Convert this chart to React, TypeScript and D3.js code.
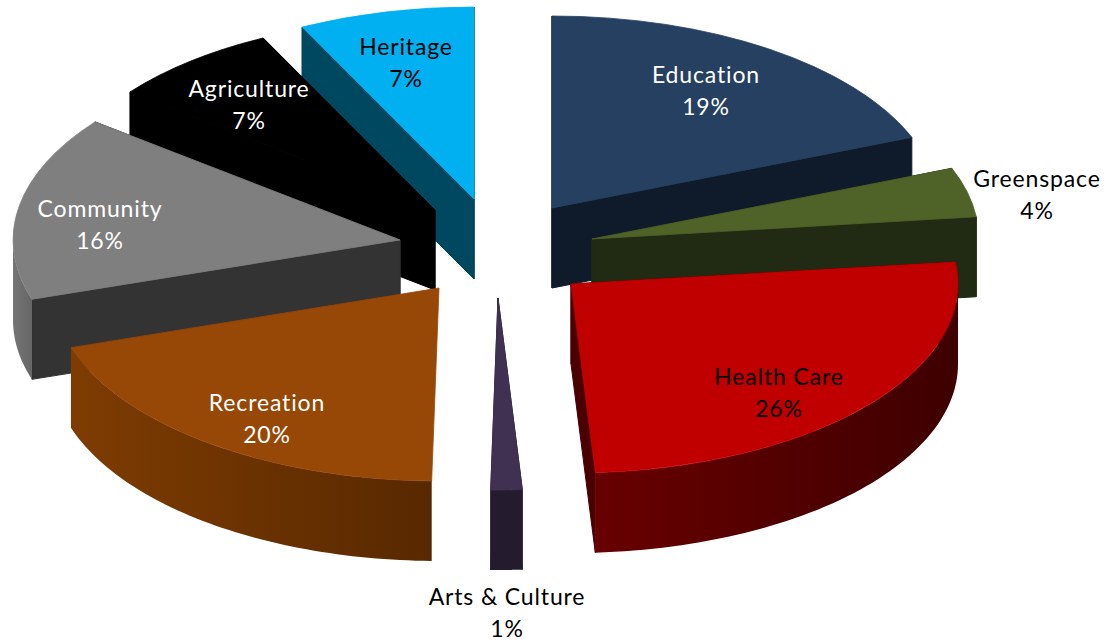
import React from "react";
import * as d3 from "d3";

const categories = ["Education", "Greenspace", "Health Care", "Arts & Culture", "Recreation", "Community", "Agriculture", "Heritage"];
const shares = [19, 4.15, 25.85, 1.3, 19.7, 15.55, 7.12, 7.33];
const topColors = ["#254061", "#4f6228", "#c00000", "#403152", "#974706", "#7f7f7f", "#000000", "#00b0f0"];
const edgeColors = ["#0f1b2a", "#212a12", "#4a0000", "#241c2e", "#4a2203", "#333333", "#000000", "#004760"];
const rimStart = ["#1a2c44", "#2a3515", "#680000", "#241c2e", "#7e3c02", "#757575", "#000000", "#004760"];
const rimEnd = ["#1a2c44", "#2a3515", "#3e0000", "#241c2e", "#582800", "#666666", "#000000", "#004760"];
const labelColors = ["#fff", "#000", "#000", "#000", "#fff", "#fff", "#fff", "#000"];

// layout: exploded apex of every slice, vertical radius, label centres, painter's order
const apex: [number, number][] = [[552, 208], [592, 239], [571, 284], [498, 298], [439, 288], [400, 240], [435, 210], [474, 199]];
const radiusY = [192, 192, 189, 192, 193, 192, 192, 192];
const labelAt: [number, number][] = [[706, 83], [1037, 187], [779, 385], [507, 605], [267, 411], [100, 217], [249, 97], [406, 55]];
const paintOrder = [0, 1, 2, 7, 6, 5, 4, 3];
const noRadialWalls = ["Recreation"];
const RX = 387, DEPTH = 80;

const pie = d3.pie<number>().sort(null).value((d) => d);
const slices = pie(shares);
const arcGen = d3.arc<any>().innerRadius(0).outerRadius(1);
const total = d3.sum(shares);
const pct = d3.format(".0%");

export default function App() {
  const line = d3.line();
  return (
    <svg width={1110} height={641} style={{ position: "absolute", left: 0, top: 0, background: "#fff" }}>
      <defs>
        {categories.map((c, i) => (
          <linearGradient key={c} id={`rim${i}`} x1="0" x2="1" y1="0" y2="0">
            <stop offset="0" stopColor={rimStart[i]} />
            <stop offset="1" stopColor={rimEnd[i]} />
          </linearGradient>
        ))}
      </defs>
      {paintOrder.map((i) => {
        const s = slices[i];
        const [cx, cy] = apex[i];
        const RY = radiusY[i];
        const px = d3.scaleLinear().domain([-1, 1]).range([cx - RX, cx + RX]);
        const py = d3.scaleLinear().domain([-1, 1]).range([cy - RY, cy + RY]);
        const pt = (a: number, dz = 0): [number, number] => [px(Math.sin(a)), py(-Math.cos(a)) + dz];
        const edge = (a: number) => {
          const o = pt(a);
          return { d: line([[cx, cy], o, [o[0], o[1] + DEPTH], [cx, cy + DEPTH]])! + "Z", my: (cy + o[1]) / 2 };
        };
        const edges = noRadialWalls.includes(categories[i])
          ? []
          : [edge(s.startAngle), edge(s.endAngle)].sort((a, b) => a.my - b.my);
        // the curved rim only faces the viewer on the lower half of the ellipse
        const a0 = Math.max(s.startAngle, Math.PI / 2);
        const a1 = Math.min(s.endAngle, (3 * Math.PI) / 2);
        let rim: string | null = null;
        if (a1 > a0) {
          const angles = d3.range(0, 61).map((k) => a0 + ((a1 - a0) * k) / 60);
          const lower = angles.map((a) => pt(a));
          const upper = angles.slice().reverse().map((a) => pt(a, DEPTH));
          rim = line([...lower, ...upper])! + "Z";
        }
        return (
          <g key={categories[i]}>
            {edges.map((e, k) => (
              <path key={k} d={e.d} fill={edgeColors[i]} stroke={edgeColors[i]} strokeWidth={1} />
            ))}
            {rim && <path d={rim} fill={`url(#rim${i})`} />}
            <path
              d={arcGen(s)!}
              transform={`translate(${cx},${cy}) scale(${RX},${RY})`}
              fill={topColors[i]}
              stroke={topColors[i]}
              strokeWidth={0.8}
              vectorEffect="non-scaling-stroke"
            />
          </g>
        );
      })}
      {categories.map((c, i) => (
        <text
          key={c}
          x={labelAt[i][0]}
          y={labelAt[i][1]}
          textAnchor="middle"
          fill={labelColors[i]}
          style={{ fontFamily: "Lato, 'Open Sans', sans-serif", fontSize: 23, letterSpacing: 0.85 }}
        >
          <tspan x={labelAt[i][0]}>{c}</tspan>
          <tspan x={labelAt[i][0]} dy={32}>{pct(shares[i] / total)}</tspan>
        </text>
      ))}
    </svg>
  );
}
